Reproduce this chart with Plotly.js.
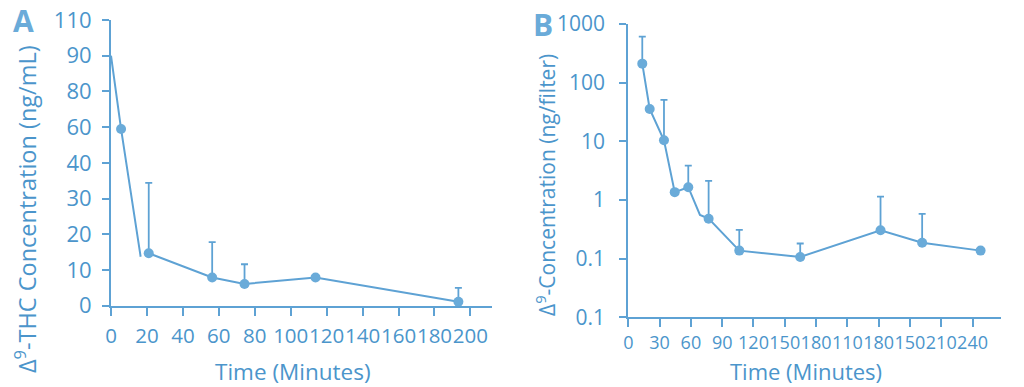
<!DOCTYPE html>
<html>
<head>
<meta charset="utf-8">
<script src="https://cdn.plot.ly/plotly-3.0.1.min.js"></script>
<style>html,body{margin:0;padding:0;background:#fff;}#chart{width:1024px;height:387px;}</style>
</head>
<body>
<div id="chart"></div>
<script>
// ---------- Panel A data ----------
var yTickLabelsA = [0, 10, 20, 30, 40, 60, 80, 90, 110];   // evenly spaced labels on the A axis
var xTicksA = [0, 20, 40, 60, 80, 100, 120, 140, 160, 180, 200];
var timeA = [5.6, 21, 56.3, 74.3, 113.8, 193.3];
var concA = [59, 14.7, 7.9, 6.1, 7.9, 1.1];
var upperA = [null, 34.4, 17.8, 11.6, null, 5.0];
var pathTimeA = [0, 5.6, 16.5, null, 21, 56.3, 74.3, 113.8, 193.3];
var pathConcA = [90, 59, 13.7, null, 14.7, 7.9, 6.1, 7.9, 1.1];

// ---------- Panel B data ----------
var yTickValsB = [0.01, 0.1, 1, 10, 100, 1000];
var yTickTextB = ['0.1', '0.1', '1', '10', '100', '1000'];
var xTickValsB = [0, 30, 60, 90, 120, 150, 180, 210, 240, 270, 300, 330];
var xTickTextB = ['0', '30', '60', '90', '120', '150', '180', '110', '180', '150', '210', '240'];
var timeB = [13.4, 20.5, 34.2, 44.5, 57.5, 77, 106.4, 164.8, 241.8, 281.7, 337.7];
var concB = [211, 35.6, 10.4, 1.36, 1.65, 0.48, 0.137, 0.107, 0.305, 0.186, 0.137];
var upperB = [608, null, 50.7, null, 3.86, 2.11, 0.31, 0.181, 1.14, 0.58, null];
var pathTimeB = [13.4, 20.5, 34.2, 44.5, 57.5, 68.7, 77, 106.4, 164.8, 241.8, 281.7, 337.7];
var pathConcB = [211, 35.6, 10.4, 1.36, 1.65, 0.557, 0.48, 0.137, 0.107, 0.305, 0.186, 0.137];

// map a panel-A label value onto the evenly spaced label scale
function posA(v) {
  if (v === null) return null;
  for (var i = 0; i < yTickLabelsA.length - 1; i++) {
    var a = yTickLabelsA[i], b = yTickLabelsA[i + 1];
    if (v <= b || i === yTickLabelsA.length - 2) return i + (v - a) / (b - a);
  }
}

var LINE = '#5ea2d4';
var MARK = '#6aabd9';
var TEXT = '#4b95cb';
var FONT = '"Open Sans", "DejaVu Sans", sans-serif';

var yA = concA.map(posA);
var errA = upperA.map(function (u, i) { return u === null ? 0 : posA(u) - posA(concA[i]); });
var errB = upperB.map(function (u, i) { return u === null ? 0 : u - concB[i]; });

var traces = [
  { x: pathTimeA, y: pathConcA.map(posA), xaxis: 'x', yaxis: 'y', mode: 'lines',
    line: { color: LINE, width: 2 }, connectgaps: false, hoverinfo: 'skip', showlegend: false, cliponaxis: false },
  { x: timeA, y: yA, xaxis: 'x', yaxis: 'y', mode: 'markers',
    marker: { color: MARK, size: 10 }, cliponaxis: false, showlegend: false,
    error_y: { type: 'data', symmetric: false, array: errA, arrayminus: timeA.map(function () { return 0; }),
      color: LINE, thickness: 1.8, width: 3.5 } },
  { x: pathTimeB, y: pathConcB, xaxis: 'x2', yaxis: 'y2', mode: 'lines',
    line: { color: LINE, width: 2 }, hoverinfo: 'skip', showlegend: false, cliponaxis: false },
  { x: timeB, y: concB, xaxis: 'x2', yaxis: 'y2', mode: 'markers',
    marker: { color: MARK, size: 10 }, cliponaxis: false, showlegend: false,
    error_y: { type: 'data', symmetric: false, array: errB, arrayminus: timeB.map(function () { return 0; }),
      color: LINE, thickness: 1.8, width: 3.5 } }
];

var W = 1024, H = 387;
function px(x) { return x / W; }
function py(y) { return 1 - y / H; }

var axisCommon = {
  showgrid: false, zeroline: false, showline: true, linecolor: LINE, linewidth: 2,
  ticks: 'outside', ticklen: 8, tickwidth: 2, tickcolor: LINE,
  tickfont: { family: FONT, size: 21, color: TEXT }, tickangle: 0, tickmode: 'array'
};
function ax(o) { var r = {}; for (var k in axisCommon) r[k] = axisCommon[k]; for (var k2 in o) r[k2] = o[k2]; return r; }

var layout = {
  width: W, height: H,
  margin: { l: 0, r: 0, t: 0, b: 0 },
  paper_bgcolor: '#ffffff', plot_bgcolor: '#ffffff',
  font: { family: FONT, color: TEXT },
  xaxis: ax({ domain: [px(111), px(492)], range: [0, 212], anchor: 'y',
    tickvals: xTicksA, ticktext: xTicksA.map(String), ticklabelstandoff: 3,
    tickfont: { family: FONT, size: 20.5, color: TEXT } }),
  yaxis: ax({ domain: [py(305.7), py(20)], range: [0, 8], anchor: 'x',
    tickvals: yTickLabelsA.map(function (v, i) { return i; }), ticktext: yTickLabelsA.map(String), ticklen: 7, ticklabelstandoff: 6,
    tickfont: { family: FONT, size: 22, color: TEXT } }),
  xaxis2: ax({ domain: [px(628.3), px(1000.7)], range: [0, 357], anchor: 'y2',
    tickvals: xTickValsB, ticktext: xTickTextB, ticklabelstandoff: 0,
    tickfont: { family: FONT, size: 18, color: TEXT } }),
  yaxis2: ax({ domain: [py(317.3), py(24)], type: 'log', range: [-2, 3], anchor: 'x2',
    tickvals: yTickValsB, ticktext: yTickTextB, ticklen: 7, ticklabelstandoff: 10 }),
  annotations: [
    { text: '<b>A</b>', xref: 'paper', yref: 'paper', x: px(23), y: py(21), xanchor: 'center', yanchor: 'middle',
      showarrow: false, font: { family: FONT, size: 30, color: MARK } },
    { text: '<b>B</b>', xref: 'paper', yref: 'paper', x: px(543), y: py(24), xanchor: 'center', yanchor: 'middle',
      showarrow: false, font: { family: FONT, size: 30, color: MARK } },
    { text: 'Δ<sup>9</sup>-THC Concentration (ng/mL)', xref: 'paper', yref: 'paper', x: px(25), y: py(209),
      xanchor: 'center', yanchor: 'middle', textangle: -90, showarrow: false, font: { family: FONT, size: 23.5, color: TEXT } },
    { text: 'Δ<sup>9</sup>-Concentration (ng/filter)', xref: 'paper', yref: 'paper', x: px(545), y: py(185),
      xanchor: 'center', yanchor: 'middle', textangle: -90, showarrow: false, font: { family: FONT, size: 21, color: TEXT } },
    { text: 'Time (Minutes)', xref: 'paper', yref: 'paper', x: px(293), y: py(371), borderpad: 0,
      xanchor: 'center', yanchor: 'middle', showarrow: false, font: { family: FONT, size: 22.5, color: TEXT } },
    { text: 'Time (Minutes)', xref: 'paper', yref: 'paper', x: px(806), y: py(371), borderpad: 0,
      xanchor: 'center', yanchor: 'middle', showarrow: false, font: { family: FONT, size: 22, color: TEXT } }
  ]
};

Plotly.newPlot('chart', traces, layout, { displayModeBar: false, staticPlot: true });
</script>
</body>
</html>
